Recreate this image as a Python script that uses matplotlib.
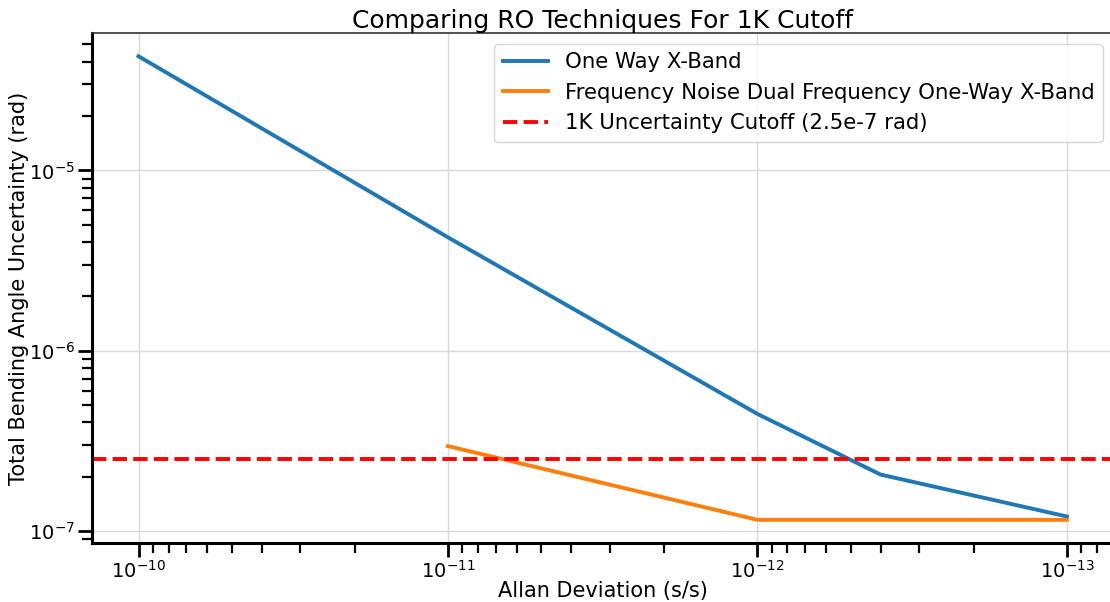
import matplotlib
matplotlib.use("Agg")
import matplotlib.pyplot as plt

# Allan deviation values (s/s)
allan_one_way = [1e-10, 1e-11, 1e-12, 4e-13, 1e-13]
angle_one_way = [4.3e-5, 4.25e-6, 4.45e-7, 2.05e-7, 1.2e-7]

allan_dual = [1e-11, 1e-12, 1e-13]
angle_dual = [2.95e-7, 1.15e-7, 1.15e-7]

cutoff = 2.5e-7

fig = plt.figure(figsize=(11.1, 6.02), dpi=100)
ax = fig.add_axes([0.083, 0.098, 0.92, 0.847])

ax.plot(allan_one_way, angle_one_way, color="#1f77b4", lw=2.8, label="One Way X-Band")
ax.plot(allan_dual, angle_dual, color="#ff7f0e", lw=2.8,
        label="Frequency Noise Dual Frequency One-Way X-Band")
ax.axhline(cutoff, color="red", lw=2.8, ls="--",
           label="1K Uncertainty Cutoff (2.5e-7 rad)")

ax.set_xscale("log")
ax.set_yscale("log")
ax.invert_xaxis()

ax.grid(True, which="major", color="#d9d9d9", lw=1)
ax.set_axisbelow(True)

ax.set_title("Comparing RO Techniques For 1K Cutoff", fontsize=18, pad=4)
ax.set_xlabel("Allan Deviation (s/s)", fontsize=15, labelpad=-1)
ax.set_ylabel("Total Bending Angle Uncertainty (rad)", fontsize=15)
ax.yaxis.set_label_coords(-0.062, 0.5)

ax.tick_params(which="major", length=10, width=2, labelsize=14, color="black", pad=2.5)
ax.tick_params(which="minor", length=7, width=1.6, color="black")

for side in ("left", "bottom"):
    ax.spines[side].set_linewidth(2.2)
    ax.spines[side].set_color("black")
ax.spines["top"].set_linewidth(1.2)
ax.spines["top"].set_color("#333333")
ax.spines["right"].set_visible(False)

ax.legend(loc="upper right", fontsize=15.3, framealpha=0.8, edgecolor="#cccccc",
          handlelength=2.1, borderaxespad=0.5)

fig.savefig("out.png", dpi=100)
